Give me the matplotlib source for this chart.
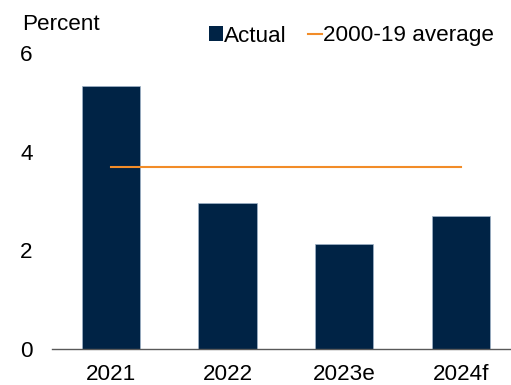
import matplotlib
matplotlib.use("Agg")
import matplotlib.pyplot as plt
from matplotlib.patches import Patch
from matplotlib.lines import Line2D

plt.rcParams["font.family"] = ["Liberation Sans", "DejaVu Sans"]

# ---------- Data ----------
years = ["2021", "2022", "2023e", "2024f"]
actual = [5.34, 2.96, 2.12, 2.70]
avg_2000_19 = 3.69
y_ticks = [0, 2, 4, 6]

navy = "#002345"
orange = "#F28C28"
fs = 16.2

fig = plt.figure(figsize=(5.11, 3.85), dpi=100)
ax = fig.add_axes([52 / 511, 36 / 385, 1 - 52 / 511, 296 / 385])

x = list(range(len(years)))
ax.bar(x, actual, width=0.5, color=navy, edgecolor="#9fb3c8", linewidth=0.5, zorder=2)
ax.plot([x[0], x[-1]], [avg_2000_19, avg_2000_19], color=orange, lw=1.5, zorder=3)

ax.set_xlim(-0.506, 3.43)
ax.set_ylim(0, 6)
ax.set_xticks(x)
ax.set_xticklabels(years, fontsize=fs)
ax.set_yticks(y_ticks)
ax.set_yticklabels([str(t) for t in y_ticks], fontsize=fs)
ax.tick_params(axis="both", length=0)
ax.tick_params(axis="y", pad=14)
ax.tick_params(axis="x", pad=10.5)
for s in ["top", "right", "left"]:
    ax.spines[s].set_visible(False)
ax.spines["bottom"].set_color("#595959")
ax.spines["bottom"].set_linewidth(1)

fig.text(22 / 511, 1 - 24 / 385, "Percent", fontsize=fs, va="center", ha="left")

handles = [Patch(facecolor=navy, edgecolor="none"),
           Line2D([0], [0], color=orange, lw=1.5)]
fig.legend(handles, ["Actual", "2000-19 average"], loc="center",
           bbox_to_anchor=(351.5 / 511, 1 - 36 / 385), ncol=2, frameon=False,
           fontsize=fs, handlelength=0.62, handleheight=0.62, handletextpad=0.07,
           columnspacing=0.93, borderpad=0)

fig.savefig("out.png", dpi=100)
